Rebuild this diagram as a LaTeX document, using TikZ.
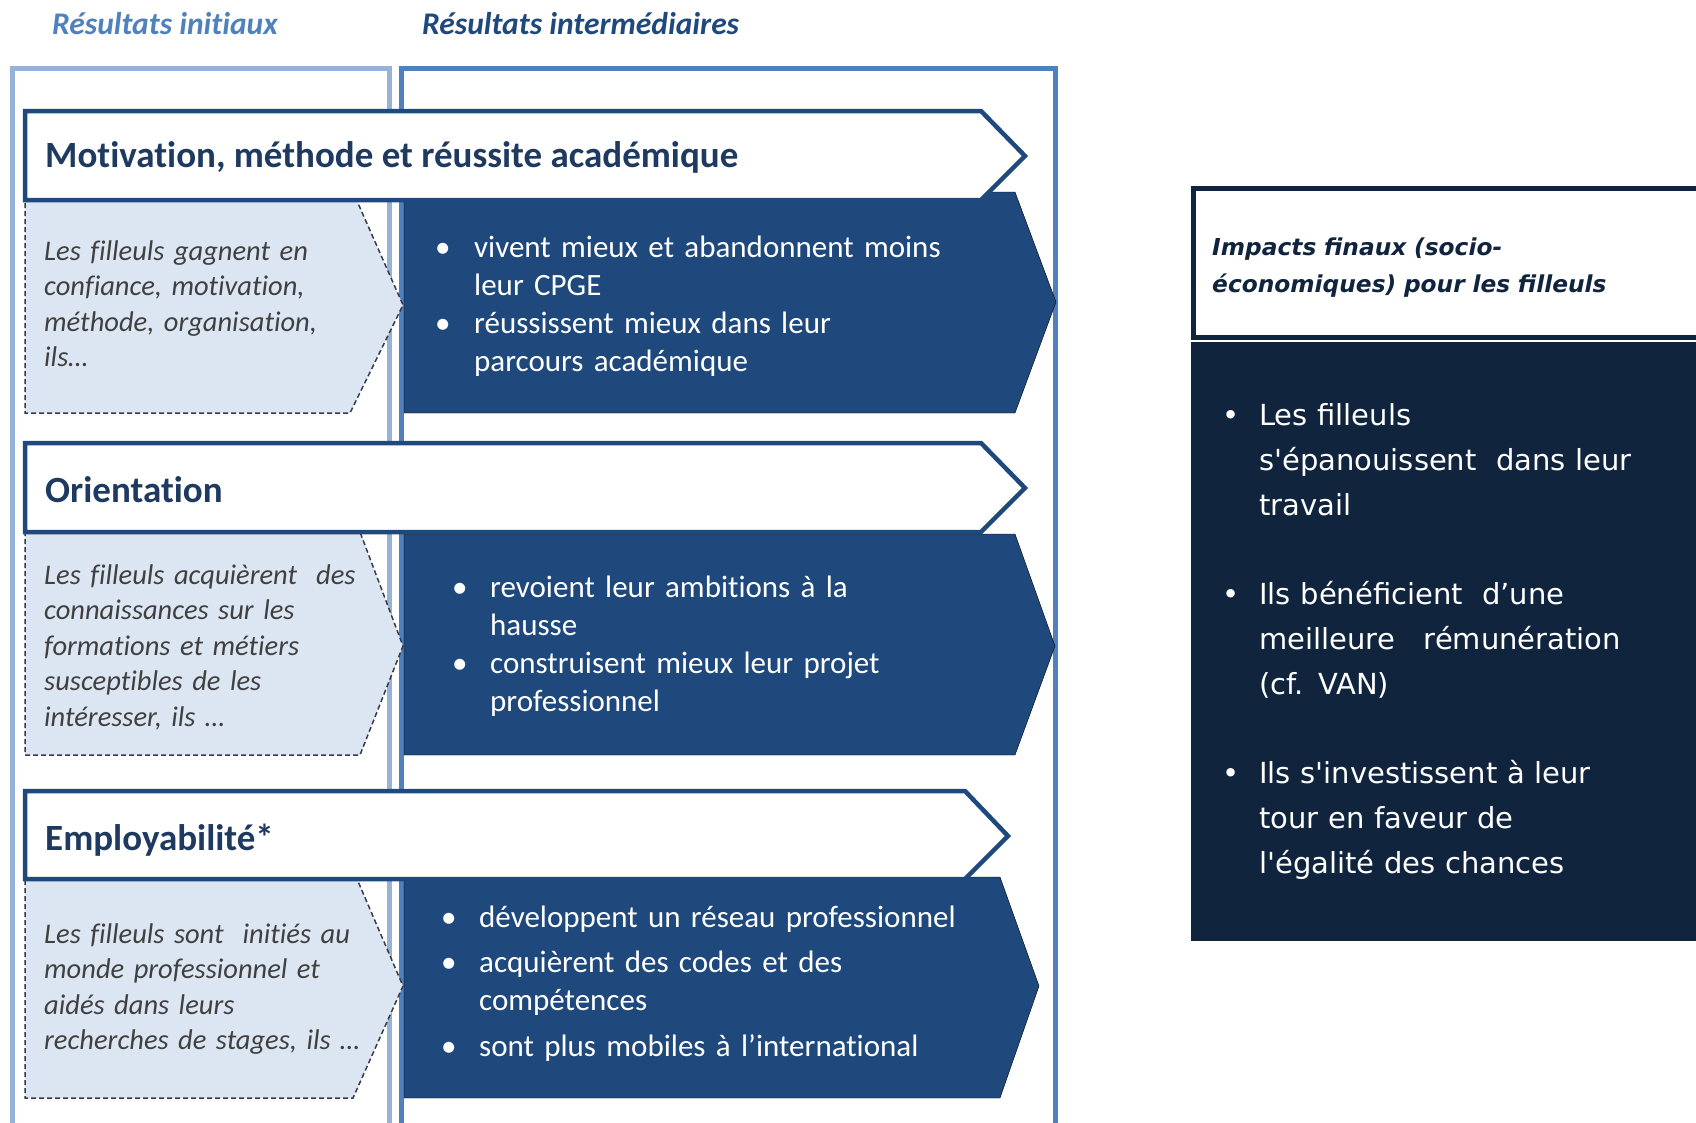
\documentclass[tikz,border=0pt]{standalone}
\usepackage{fontspec}
\setmainfont{Carlito}[Ligatures=NoCommon]
\newfontfamily\verdana{DejaVu Sans}

\definecolor{colInit}{HTML}{95B3D7}
\definecolor{colInter}{HTML}{4F81BD}
\definecolor{navy}{HTML}{1F497D}
\definecolor{titleNavy}{HTML}{1F3A60}
\definecolor{paleBlue}{HTML}{DCE6F2}
\definecolor{dashGray}{HTML}{3A3A48}
\definecolor{textGray}{HTML}{404040}
\definecolor{nightBlue}{HTML}{10243E}

% puce placee a gauche du texte
\newcommand{\Puce}[1]{\llap{\makebox[#1][l]{\textbullet}}}

\begin{document}
\begin{tikzpicture}[x=1pt,y=-1pt]
  \tikzset{ColInitStyle/.style = {
    draw          = colInit,
    line width    = 5pt
    }
  }
  \tikzset{ColInterStyle/.style = {
    draw          = colInter,
    line width    = 5pt
    }
  }
  \tikzset{BannerStyle/.style = {
    draw          = navy,
    fill          = white,
    line width    = 4.5pt,
    line join     = miter
    }
  }
  \tikzset{InitBoxStyle/.style = {
    draw          = dashGray,
    fill          = paleBlue,
    line width    = 1.5pt,
    dash pattern  = on 5pt off 3pt
    }
  }
  \tikzset{InterBoxStyle/.style = {
    fill          = navy
    }
  }
  \tikzset{HeadStyle/.style = {
    anchor        = base west,
    inner sep     = 0pt,
    font          = \fontsize{31.5}{36}\selectfont\bfseries\itshape
    }
  }
  \tikzset{TitleStyle/.style = {
    anchor        = base west,
    inner sep     = 0pt,
    text          = titleNavy,
    font          = \fontsize{37}{44}\selectfont\bfseries
    }
  }
  \tikzset{InitTextStyle/.style = {
    anchor        = base west,
    inner sep     = 0pt,
    text width    = 345pt,
    align         = left,
    text          = textGray,
    font          = \fontsize{28.5}{35.5}\selectfont\itshape
    }
  }
  \tikzset{InterTextStyle/.style = {
    anchor        = base west,
    inner sep     = 0pt,
    text width    = 540pt,
    align         = left,
    text          = white,
    font          = \fontsize{31}{38}\selectfont
    }
  }
  \tikzset{ImpactTextStyle/.style = {
    anchor        = base west,
    inner sep     = 0pt,
    text width    = 425pt,
    align         = left,
    text          = white,
    font          = \verdana\fontsize{29}{45}\selectfont
    }
  }

  \useasboundingbox (0,0) rectangle (1696,1122);
  \clip (0,0) rectangle (1696,1122);

  % colonnes
  \draw[ColInitStyle] (12,1130) -- (12,68) -- (389,68) -- (389,1130);
  \draw[ColInterStyle] (401,1130) -- (401,68) -- (1055,68) -- (1055,1130);
  \node[HeadStyle, text=colInter](H1) at (52,34) {Résultats initiaux};
  \node[HeadStyle, text=navy](H2) at (422,34) {Résultats intermédiaires};

  % ligne 1
  \draw[InterBoxStyle] (404,192) -- (1015,192) -- (1056,302) -- (1015,413) -- (404,413) -- cycle;
  \draw[InitBoxStyle] (25,201) -- (357,201) -- (403,305) -- (350,413) -- (25,413) -- cycle;
  \draw[BannerStyle] (25,111) -- (981,111) -- (1025,156) -- (981,200) -- (25,200) -- cycle;
  \node[TitleStyle](T1) at (45,167) {Motivation, méthode et réussite académique};
  \node[InitTextStyle](I1) at (44,260) {Les filleuls gagnent en\newline confiance, motivation,\newline méthode, organisation,\newline ils…};
  \node[InterTextStyle](P1a) at (474,257) {\Puce{39pt}vivent mieux et abandonnent moins\newline leur CPGE};
  \node[InterTextStyle](P1b) at (474,333) {\Puce{39pt}réussissent mieux dans leur\newline parcours académique};

  % ligne 2
  \draw[InterBoxStyle] (404,534) -- (1015,534) -- (1055,646) -- (1015,755) -- (404,755) -- cycle;
  \draw[InitBoxStyle] (25,532) -- (360,532) -- (403,646) -- (360,755) -- (25,755) -- cycle;
  \draw[BannerStyle] (25,443) -- (981,443) -- (1025,488) -- (981,532) -- (25,532) -- cycle;
  \node[TitleStyle](T2) at (45,502) {Orientation};
  \node[InitTextStyle](I2) at (44,584) {Les filleuls acquièrent~ des\newline connaissances sur les\newline formations et métiers\newline susceptibles de les\newline intéresser, ils …};
  \node[InterTextStyle](P2a) at (490,597) {\Puce{38pt}revoient leur ambitions à la\newline hausse};
  \node[InterTextStyle](P2b) at (490,673) {\Puce{38pt}construisent mieux leur projet\newline professionnel};

  % ligne 3
  \draw[InterBoxStyle] (404,877) -- (1000,877) -- (1039,986) -- (1000,1098) -- (404,1098) -- cycle;
  \draw[InitBoxStyle] (25,879) -- (357,879) -- (403,986) -- (353,1098) -- (25,1098) -- cycle;
  \draw[BannerStyle] (25,791) -- (965,791) -- (1008,836) -- (965,879) -- (25,879) -- cycle;
  \node[TitleStyle](T3) at (45,850) {Employabilité*};
  \node[InitTextStyle](I3) at (44,943) {Les filleuls sont~ initiés au\newline monde professionnel et\newline aidés dans leurs\newline recherches de stages, ils …};
  \node[InterTextStyle](P3a) at (479,927) {\Puce{38pt}développent un réseau professionnel};
  \node[InterTextStyle](P3b) at (479,972) {\Puce{38pt}acquièrent des codes et des\newline compétences};
  \node[InterTextStyle](P3c) at (479,1056) {\Puce{38pt}sont plus mobiles à l’international};

  % impacts finaux
  \fill[nightBlue] (1191,342) rectangle (1710,941);
  \draw[draw=nightBlue, fill=white, line width=5pt] (1710,188) -- (1193,188) -- (1193,337) -- (1710,337);
  \node[anchor=base west, inner sep=0pt, text width=480pt, align=left, text=nightBlue,
        font=\verdana\fontsize{23.3}{37}\selectfont\bfseries\itshape](F0) at (1212,255)
        {Impacts finaux (socio-\newline économiques) pour les filleuls};
  \node[ImpactTextStyle](F1) at (1259,425) {\Puce{37pt}Les filleuls\newline s'épanouissent~ dans leur\newline travail};
  \node[ImpactTextStyle](F2) at (1259,604) {\Puce{37pt}Ils bénéficient~ d’une\newline meilleure~~ rémunération\newline (cf. VAN)};
  \node[ImpactTextStyle](F3) at (1259,783) {\Puce{37pt}Ils s'investissent à leur\newline tour en faveur de\newline l'égalité des chances};

\end{tikzpicture}
\end{document}
